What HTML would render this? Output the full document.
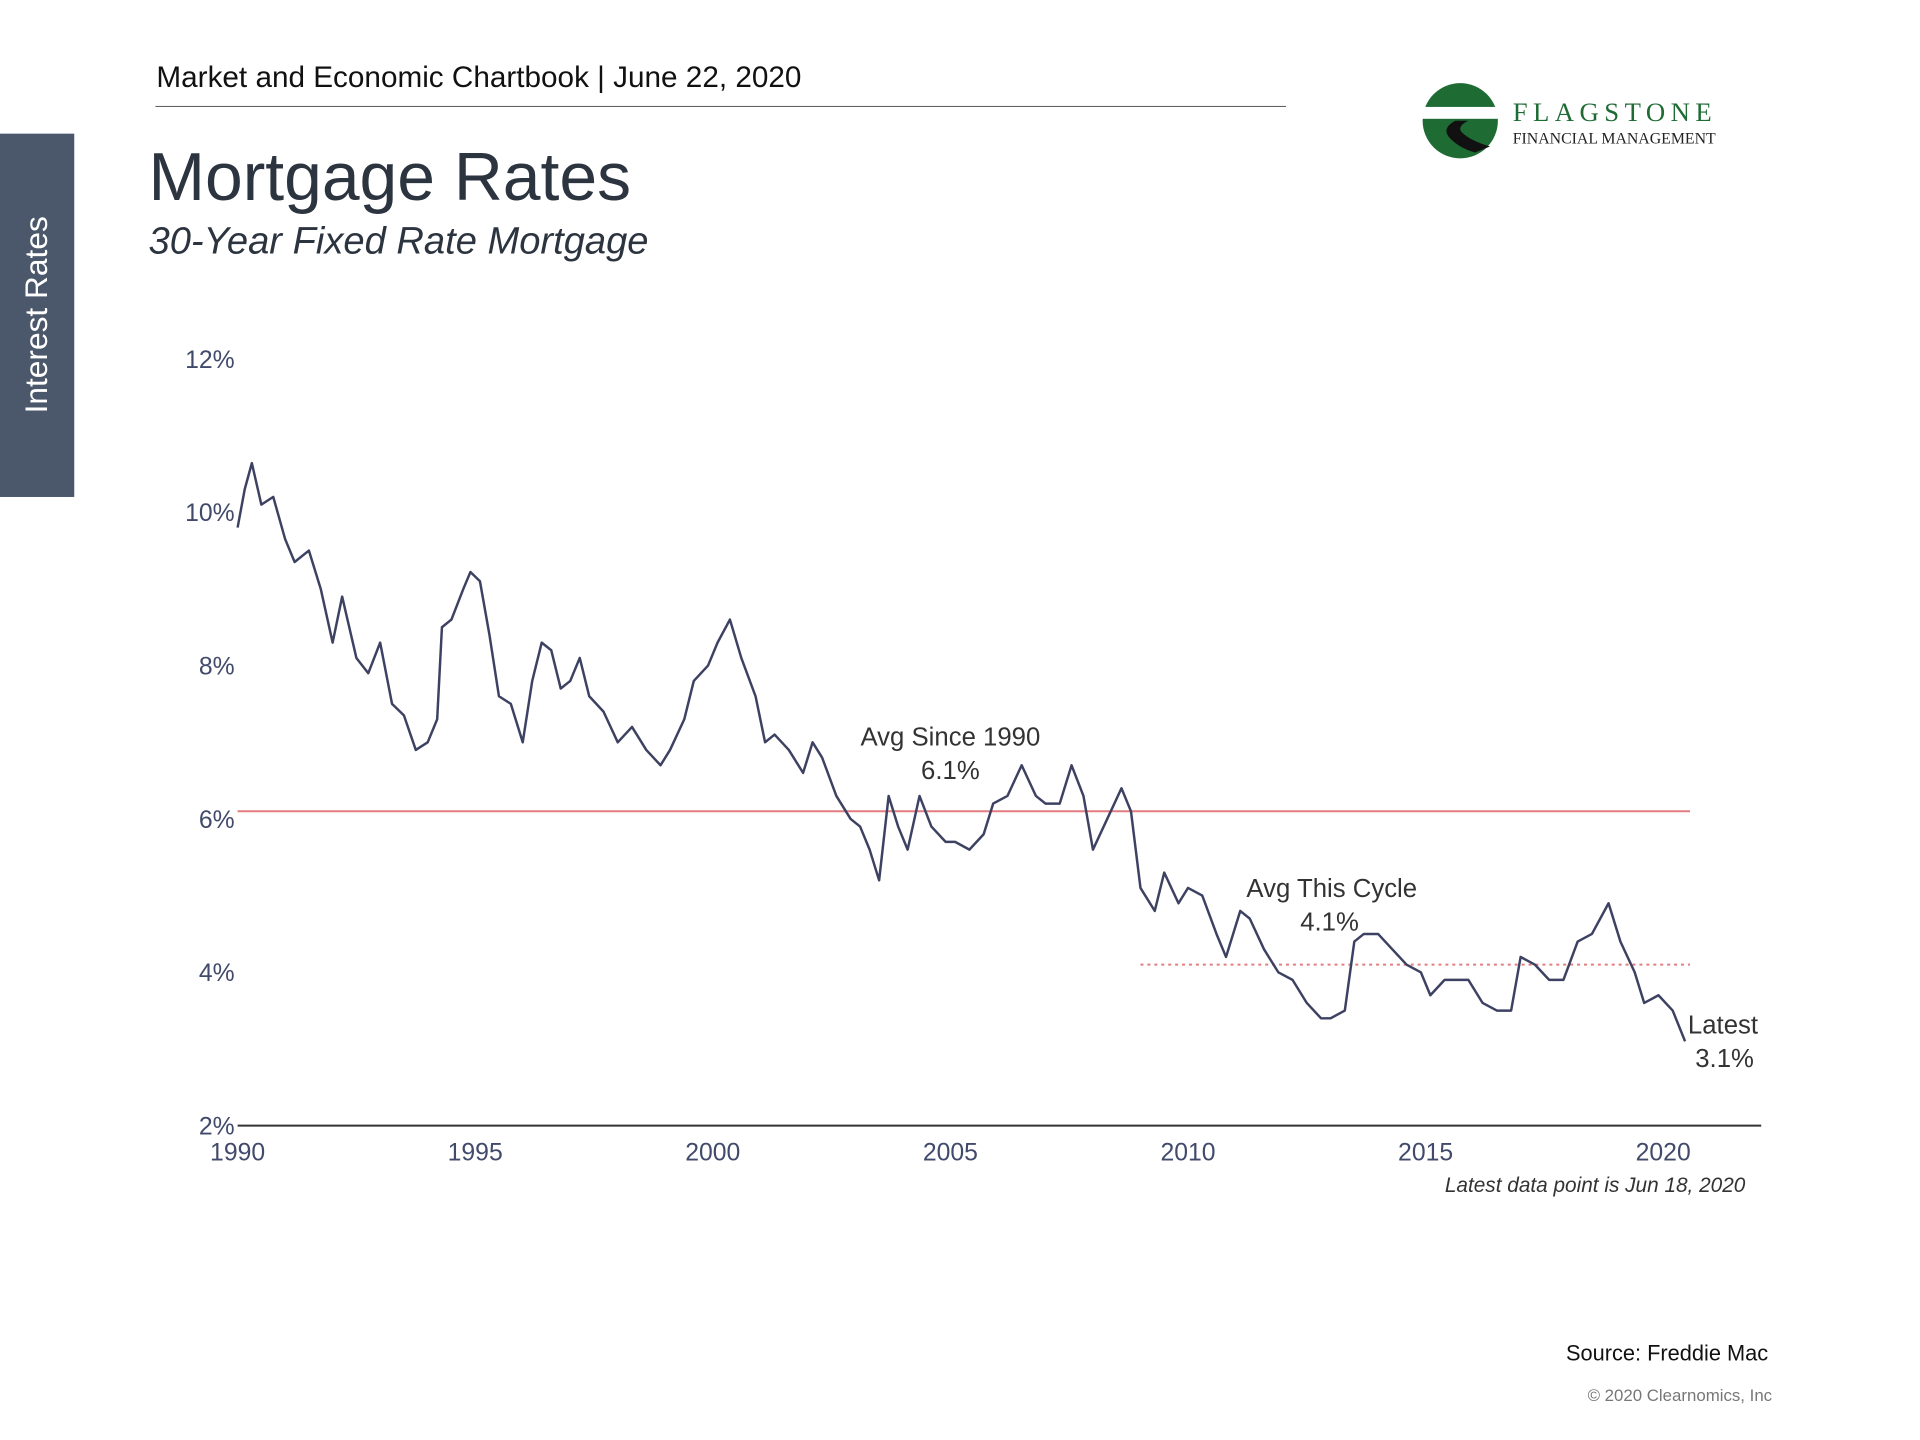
<!DOCTYPE html>
<html><head><meta charset="utf-8"><style>
body{margin:0;width:1920px;height:1440px;background:#fff;position:relative;overflow:hidden;font-family:"Liberation Sans",sans-serif;}
#wrap{position:absolute;left:0;top:0;width:1920px;height:1440px;transform:scale(0.99);transform-origin:0 0;}
.abs{position:absolute;white-space:nowrap;}
</style></head><body>
<div id="wrap">
<div class="abs" style="left:0;top:135px;width:75px;height:367px;background:#4b586b;"></div>
<div class="abs" style="left:37px;top:318px;transform:translate(-50%,-50%) rotate(-90deg);color:#fff;font-size:32px;">Interest Rates</div>
<div class="abs" style="left:158px;top:62px;font-size:30px;color:#111;">Market and Economic Chartbook | June 22, 2020</div>
<div class="abs" style="left:157px;top:107px;width:1142px;height:1px;background:#555;"></div>
<div class="abs" style="left:150px;top:139px;font-size:68.5px;color:#2c3440;">Mortgage Rates</div>
<div class="abs" style="left:150px;top:222px;font-size:38.5px;font-style:italic;color:#2c3440;">30-Year Fixed Rate Mortgage</div>
<svg class="abs" style="left:1435px;top:82px" width="320" height="80">
<circle cx="40" cy="40" r="38" fill="#1e6b34"/>
<rect x="0" y="26" width="80" height="12" fill="#fff"/>
<path d="M35 40 Q20 48 30 58 Q40 68 55 72 L70 66 Q50 60 42 52 Q36 46 48 40Z" fill="#111"/>
<text x="93" y="40" font-family="Liberation Serif,serif" font-size="27" letter-spacing="5.5" fill="#1e6b34">FLAGSTONE</text>
<text x="93" y="63" font-family="Liberation Serif,serif" font-size="16" fill="#222">FINANCIAL MANAGEMENT</text>
</svg>
<svg id="chart" class="abs" style="left:0;top:0" width="1920" height="1440"></svg>
<div class="abs" style="right:157px;top:1186px;font-size:21px;font-style:italic;color:#333;">Latest data point is Jun 18, 2020</div>
<div class="abs" style="right:134px;top:1354px;font-size:22px;color:#111;">Source: Freddie Mac</div>
<div class="abs" style="right:130px;top:1400px;font-size:17px;color:#777;">© 2020 Clearnomics, Inc</div>
</div>
<script>
const years=[1990.0,1990.15,1990.3,1990.5,1990.75,1991.0,1991.2,1991.5,1991.75,1992.0,1992.2,1992.5,1992.75,1993.0,1993.25,1993.5,1993.75,1994.0,1994.2,1994.3,1994.5,1994.75,1994.9,1995.1,1995.3,1995.5,1995.75,1996.0,1996.2,1996.4,1996.6,1996.8,1997.0,1997.2,1997.4,1997.7,1998.0,1998.3,1998.6,1998.9,1999.1,1999.4,1999.6,1999.9,2000.1,2000.36,2000.6,2000.9,2001.1,2001.3,2001.6,2001.9,2002.1,2002.3,2002.6,2002.9,2003.1,2003.3,2003.5,2003.7,2003.9,2004.1,2004.35,2004.6,2004.9,2005.1,2005.4,2005.7,2005.9,2006.2,2006.5,2006.8,2007.0,2007.3,2007.55,2007.8,2008.0,2008.3,2008.6,2008.8,2009.0,2009.3,2009.5,2009.8,2010.0,2010.3,2010.6,2010.8,2011.1,2011.3,2011.6,2011.9,2012.2,2012.5,2012.8,2013.0,2013.3,2013.5,2013.7,2014.0,2014.3,2014.6,2014.9,2015.1,2015.4,2015.7,2015.9,2016.2,2016.5,2016.8,2017.0,2017.3,2017.6,2017.9,2018.2,2018.5,2018.85,2019.1,2019.4,2019.6,2019.9,2020.2,2020.46];
const rates=[9.8,10.3,10.64,10.1,10.2,9.65,9.35,9.5,9.0,8.3,8.9,8.1,7.9,8.3,7.5,7.35,6.9,7.0,7.3,8.5,8.6,9.0,9.22,9.1,8.4,7.6,7.5,7.0,7.8,8.3,8.2,7.7,7.8,8.1,7.6,7.4,7.0,7.2,6.9,6.7,6.9,7.3,7.8,8.0,8.3,8.6,8.1,7.6,7.0,7.1,6.9,6.6,7.0,6.8,6.3,6.0,5.9,5.6,5.2,6.3,5.9,5.6,6.3,5.9,5.7,5.7,5.6,5.8,6.2,6.3,6.7,6.3,6.2,6.2,6.7,6.3,5.6,6.0,6.4,6.1,5.1,4.8,5.3,4.9,5.1,5.0,4.5,4.2,4.8,4.7,4.3,4.0,3.9,3.6,3.4,3.4,3.5,4.4,4.5,4.5,4.3,4.1,4.0,3.7,3.9,3.9,3.9,3.6,3.5,3.5,4.2,4.1,3.9,3.9,4.4,4.5,4.9,4.4,4.0,3.6,3.7,3.5,3.1];
const yTicks=[2,4,6,8,10,12];
const xTicks=[1990,1995,2000,2005,2010,2015,2020];
const avgAll=6.1, avgCycle=4.1, cycleStart=2009.0, lastYear=2020.46;
const NS='http://www.w3.org/2000/svg';
const svg=document.getElementById('chart');
const X=t=>240+(t-1990)*48;
const Y=v=>1137-(v-2)*77.45;
function mk(tag,attrs,txt){const e=document.createElementNS(NS,tag);for(const k in attrs)e.setAttribute(k,attrs[k]);if(txt!==undefined)e.textContent=txt;svg.appendChild(e);return e;}
yTicks.forEach(v=>{
 const t=mk('text',{x:237,y:Y(v)+9,'text-anchor':'end','font-size':25,fill:'#414a6b','font-family':'Liberation Sans,sans-serif'},v+'%');
 
 
});
xTicks.forEach(v=>{
 const t=mk('text',{x:X(v),y:1172,'text-anchor':'middle','font-size':25,fill:'#414a6b','font-family':'Liberation Sans,sans-serif'},v);
 
 
});
const ax=mk('line',{x1:240,x2:1779,y1:Y(2),y2:Y(2),stroke:'#333','stroke-width':2});


const a1=mk('line',{x1:X(1990),x2:X(lastYear)+5,y1:Y(avgAll),y2:Y(avgAll),stroke:'#e37d80','stroke-width':2});


const a2=mk('line',{x1:X(cycleStart),x2:X(lastYear)+5,y1:Y(avgCycle),y2:Y(avgCycle),stroke:'#e37d80','stroke-width':2,'stroke-dasharray':'3,4'});


const pts=years.map((t,i)=>X(t).toFixed(1)+','+Y(rates[i]).toFixed(1)).join(' ');
const ln=mk('polyline',{points:pts,fill:'none',stroke:'#3d4262','stroke-width':2.5,'stroke-linejoin':'round'});


const labels=[["Avg Since 1990",960,753,'middle'],[avgAll+'%',960,787,'middle'],["Avg This Cycle",1259,906,'start'],[avgCycle+'%',1343,940,'middle'],["Latest",1705,1044,'start'],[rates[rates.length-1]+'%',1742,1078,'middle']];
labels.forEach(l=>{
 const t=mk('text',{x:l[1],y:l[2],'text-anchor':l[3],'font-size':26,fill:'#333','font-family':'Liberation Sans,sans-serif'},l[0]);
 
 
});
</script>
</body></html>
